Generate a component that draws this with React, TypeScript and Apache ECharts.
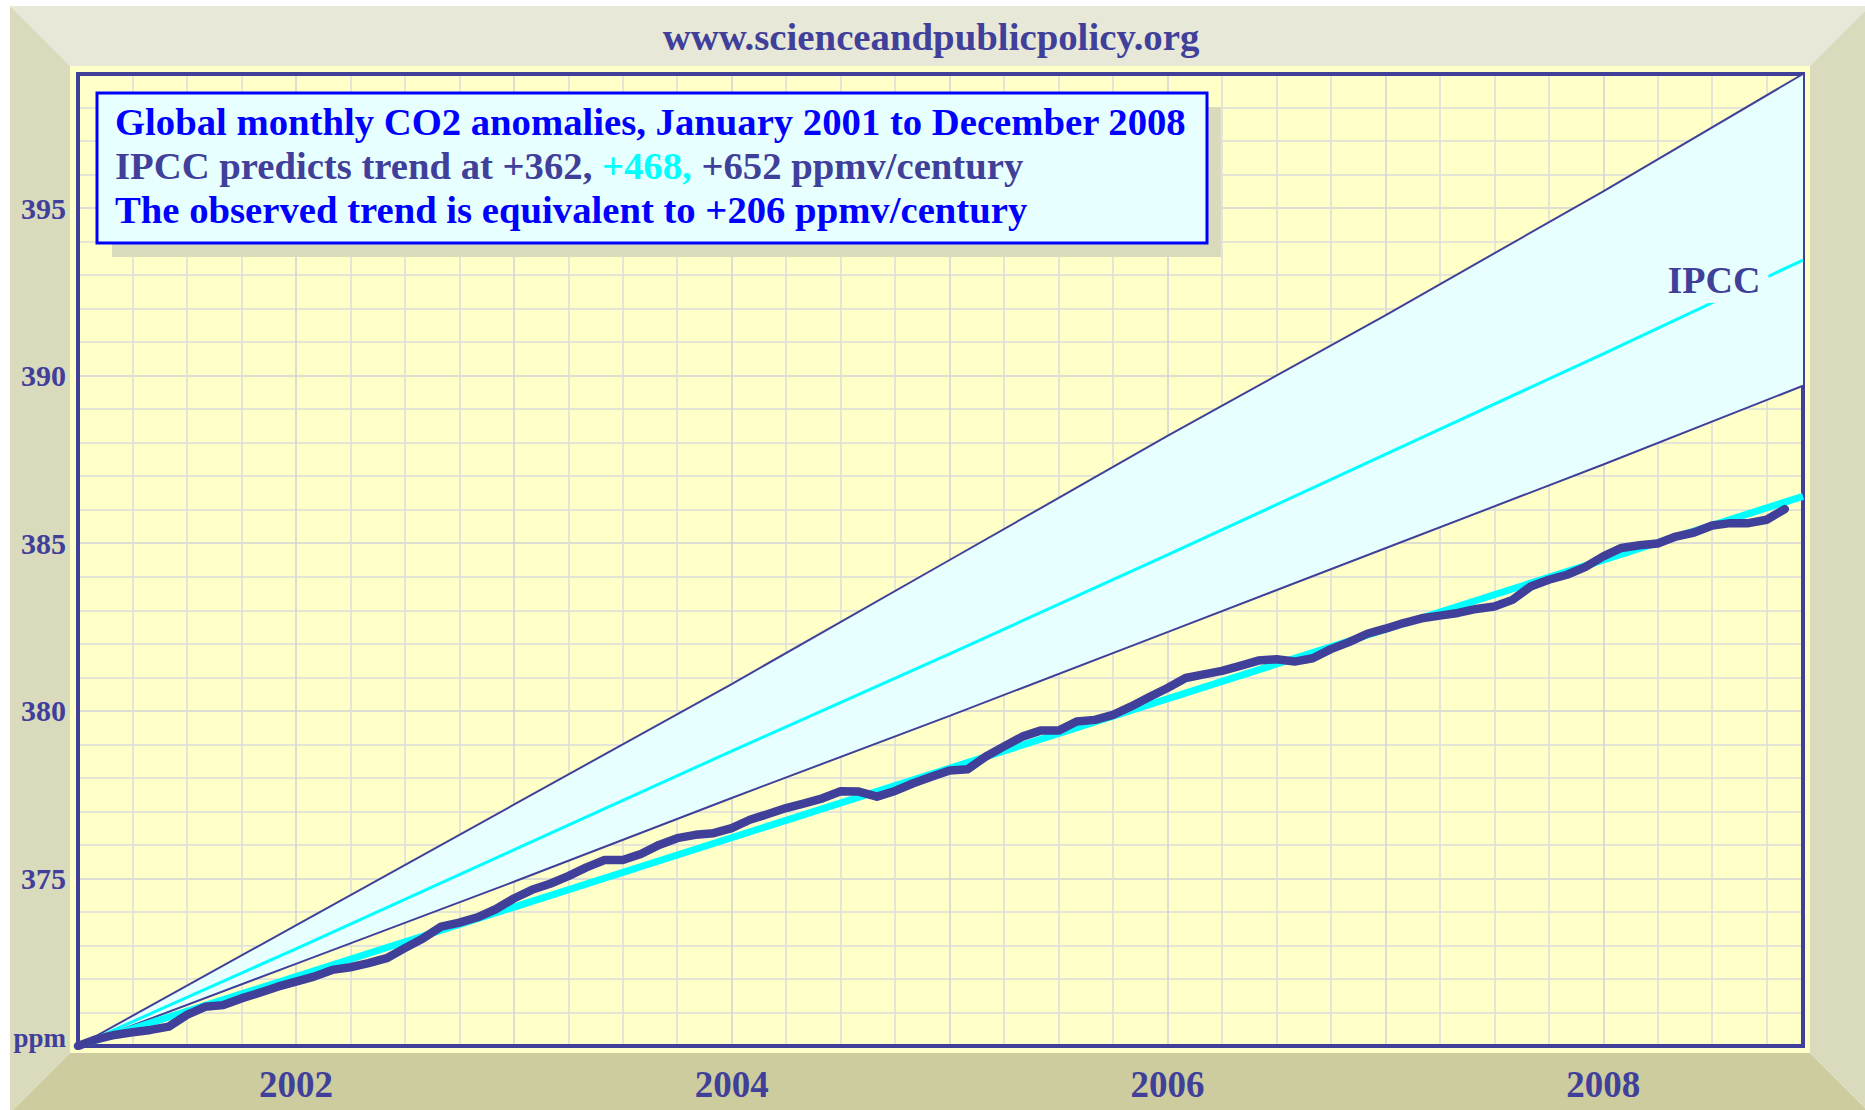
import React, { useEffect, useRef } from 'react';
import * as echarts from 'echarts';

// Months since January 2001 (0 = Jan 2001, 95 = Dec 2008)
const ipccMonths = [0, 12, 24, 36, 48, 60, 72, 84, 95];
const ipccHigh = [370.0, 373.6, 377.2, 380.8, 384.5, 388.2, 391.8, 395.5, 399.0];
const ipccMid = [370.0, 372.9, 375.85, 378.8, 381.7, 384.65, 387.65, 390.65, 393.45];
const ipccLow = [370.0, 372.45, 374.9, 377.4, 379.85, 382.35, 384.85, 387.35, 389.7];

const trendMonths = [0, 95];
const trendValues = [370.0, 386.4];

// Observed monthly CO2 (Jan 2001 onwards)
const observed = [
  370.0, 370.2, 370.33, 370.41, 370.48, 370.58, 370.93, 371.17, 371.22, 371.42, 371.59, 371.77,
  371.92, 372.07, 372.27, 372.35, 372.47, 372.62, 372.92, 373.21, 373.56, 373.68, 373.84, 374.08,
  374.4, 374.66, 374.84, 375.07, 375.33, 375.55, 375.55, 375.73, 376.0, 376.2, 376.3, 376.35,
  376.5, 376.75, 376.92, 377.1, 377.24, 377.39, 377.6, 377.59, 377.44, 377.61, 377.84, 378.03,
  378.22, 378.26, 378.64, 378.94, 379.23, 379.41, 379.41, 379.68, 379.73, 379.88, 380.13, 380.41,
  380.68, 380.98, 381.09, 381.19, 381.34, 381.5, 381.54, 381.47, 381.57, 381.84, 382.05, 382.3,
  382.45, 382.62, 382.76, 382.84, 382.92, 383.04, 383.11, 383.31, 383.71, 383.91, 384.06, 384.29,
  384.61, 384.86, 384.94, 384.99, 385.2, 385.32, 385.53, 385.6, 385.6, 385.7, 386.02,
];

const xTickMonths = [12, 36, 60, 84];
const xTickLabels = ['2002', '2004', '2006', '2008'];
const yTickValues = [370, 375, 380, 385, 390, 395];
const yTickLabels = ['ppm', '375', '380', '385', '390', '395'];

const NAVY = '#40409A';
const FONT = '"Liberation Serif", "Times New Roman", serif';

export default function App() {
  const ref = useRef<HTMLDivElement>(null);

  useEffect(() => {
    const chart = echarts.init(ref.current!, null, { renderer: 'svg' });
    const pair = (xs: number[], ys: number[]) => xs.map((x, i) => [x, ys[i]]);

    const option: any = {
      animation: false,
      backgroundColor: '#FFFFFF',
      grid: {
        left: 78,
        right: 62,
        top: 74,
        bottom: 64,
        show: true,
        borderColor: NAVY,
        borderWidth: 4,
        backgroundColor: 'transparent',
        z: 1,
      },
      xAxis: {
        type: 'value',
        min: 0,
        max: 95,
        interval: 3,
        axisLine: { show: false },
        axisTick: { show: false },
        splitLine: {
          show: true,
          lineStyle: { color: ['#D2D2D6', '#DCDCDC', '#DCDCDC', '#DCDCDC'], width: 1.5 },
        },
        axisLabel: {
          margin: 20,
          color: NAVY,
          fontFamily: FONT,
          fontWeight: 'bold',
          fontSize: 37,
          showMaxLabel: false,
          formatter: (v: number) => {
            const i = xTickMonths.indexOf(v);
            return i >= 0 ? xTickLabels[i] : '';
          },
        },
      },
      yAxis: {
        type: 'value',
        min: 370,
        max: 399,
        interval: 1,
        axisLine: { show: false },
        axisTick: { show: false },
        splitLine: {
          show: true,
          lineStyle: { color: ['#D2D2D6', '#DCDCDC', '#DCDCDC', '#DCDCDC', '#DCDCDC'], width: 1.5 },
        },
        axisLabel: {
          margin: 12,
          color: NAVY,
          fontFamily: FONT,
          fontWeight: 'bold',
          fontSize: 30,
          showMaxLabel: false,
          formatter: (v: number) => {
            const i = yTickValues.indexOf(v);
            if (i < 0) return '';
            if (yTickLabels[i] === 'ppm') return '{p|ppm}';
            return yTickLabels[i];
          },
          rich: {
            p: {
              color: NAVY,
              fontFamily: FONT,
              fontWeight: 'bold',
              fontSize: 27,
              padding: [0, 0, 16, 0],
            },
          },
        },
      },
      series: [
        {
          type: 'custom',
          silent: true,
          z: 1,
          data: [[0, 370]],
          renderItem: (_params: any, api: any) => {
            const top = ipccMonths.map((m, i) => api.coord([m, ipccHigh[i]]));
            const bottom = ipccMonths.map((m, i) => api.coord([m, ipccLow[i]])).reverse();
            return {
              type: 'polygon',
              shape: { points: top.concat(bottom) },
              style: { fill: '#E8FFFF' },
            };
          },
        },
        {
          type: 'line',
          data: pair(ipccMonths, ipccHigh),
          symbol: 'none',
          z: 3,
          lineStyle: { color: NAVY, width: 2 },
        },
        {
          type: 'line',
          data: pair(ipccMonths, ipccLow),
          symbol: 'none',
          z: 3,
          lineStyle: { color: NAVY, width: 2 },
        },
        {
          type: 'line',
          data: pair(ipccMonths, ipccMid),
          symbol: 'none',
          z: 3,
          lineStyle: { color: '#00FFFF', width: 3 },
        },
        {
          type: 'line',
          data: pair(trendMonths, trendValues),
          symbol: 'none',
          z: 4,
          lineStyle: { color: '#00FFFF', width: 7 },
        },
        {
          type: 'line',
          data: observed.map((v, i) => [i, v]),
          symbol: 'none',
          z: 5,
          lineStyle: { color: NAVY, width: 8.5, cap: 'round', join: 'round' },
        },
      ],
      graphic: [
        // bevelled frame
        { type: 'polygon', z: -10, silent: true, shape: { points: [[10, 6], [1865, 6], [1865, 11], [1810, 66], [70, 66]] }, style: { fill: '#E8E8D9' } },
        { type: 'polygon', z: -10, silent: true, shape: { points: [[10, 6], [70, 66], [70, 1053], [13, 1110], [10, 1110]] }, style: { fill: '#DADABD' } },
        { type: 'polygon', z: -10, silent: true, shape: { points: [[70, 1053], [1810, 1053], [1865, 1108], [1865, 1110], [13, 1110]] }, style: { fill: '#CDCC9F' } },
        { type: 'polygon', z: -10, silent: true, shape: { points: [[1810, 66], [1865, 11], [1865, 1108], [1810, 1053]] }, style: { fill: '#DADABD' } },
        { type: 'rect', z: -10, silent: true, shape: { x: 70, y: 66, width: 1740, height: 987 }, style: { fill: '#FFFFC8' } },
        // site title
        {
          type: 'text', z: 50, silent: true,
          style: { text: 'www.scienceandpublicpolicy.org', x: 931, y: 36, align: 'center', verticalAlign: 'middle', font: `bold 38.8px ${FONT}`, fill: NAVY },
        },
        // text box with shadow
        { type: 'rect', z: 50, silent: true, shape: { x: 112, y: 107, width: 1109, height: 150 }, style: { fill: '#DADABD' } },
        { type: 'rect', z: 51, silent: true, shape: { x: 97, y: 93, width: 1110, height: 150 }, style: { fill: '#E8FFFF', stroke: '#0000FF', lineWidth: 3 } },
        {
          type: 'text', z: 52, silent: true,
          style: { text: 'Global monthly CO2 anomalies, January 2001 to December 2008', x: 115, y: 122, align: 'left', verticalAlign: 'middle', font: `bold 38.7px ${FONT}`, fill: '#0000FF' },
        },
        {
          type: 'text', z: 52, silent: true,
          style: {
            text: '{n|IPCC predicts trend at +362, }{c|+468,}{n| +652 ppmv/century}',
            x: 115, y: 166, align: 'left', verticalAlign: 'middle',
            rich: {
              n: { font: `bold 38.7px ${FONT}`, fill: NAVY },
              c: { font: `bold 38.7px ${FONT}`, fill: '#00FFFF' },
            },
          },
        },
        {
          type: 'text', z: 52, silent: true,
          style: { text: 'The observed trend is equivalent to +206 ppmv/century', x: 115, y: 210, align: 'left', verticalAlign: 'middle', font: `bold 38.7px ${FONT}`, fill: '#0000FF' },
        },
        // IPCC label sitting on the middle line
        {
          type: 'text', z: 60, silent: true,
          style: {
            text: 'IPCC', x: 1714, y: 280, align: 'center', verticalAlign: 'middle',
            font: `bold 38px ${FONT}`, fill: NAVY, backgroundColor: '#E8FFFF', padding: [4, 8],
          },
        },
      ],
    };

    chart.setOption(option);
    return () => chart.dispose();
  }, []);

  return (
    <div
      ref={ref}
      style={{ position: 'fixed', left: 0, top: 0, width: 1865, height: 1110 }}
    />
  );
}
